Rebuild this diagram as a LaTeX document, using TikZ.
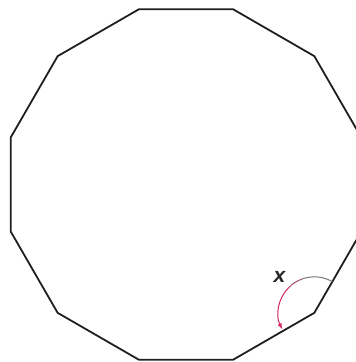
\documentclass[tikz,border=0pt]{standalone}
\usepackage{fontspec}
\setsansfont{Liberation Sans}
\usepackage{xcolor}
\usetikzlibrary{calc}

\definecolor{arcred}{RGB}{212,38,88}
\definecolor{arcgray}{RGB}{120,120,120}

\begin{document}
\begin{tikzpicture}[>=latex, x=1pt, y=1pt,
    side/.style={line width=1.8pt, color=black!88, line join=round},
    anglearc/.style={line width=1pt}]
    \useasboundingbox (0,0) rectangle (356,362);
    % Tâm và các đỉnh của thập nhị giác đều
    \coordinate (O) at (186,177.5);
    \foreach \k in {0,...,11}
        \coordinate (v\k) at ($(O)+({15+30*\k}:181.5)$);

    % Các cạnh
    \draw[side] (v0) -- (v1) -- (v2) -- (v3) -- (v4) -- (v5) -- (v6)
        -- (v7) -- (v8) -- (v9) -- (v10) -- (v11) -- cycle;

    % Cung góc trong tại đỉnh v10
    \draw[anglearc, arcgray] ($(v10)+(60:36)$) arc (60:110:36);
    \draw[anglearc, arcgray!50!arcred] ($(v10)+(110:36)$) arc (110:135:36);
    \draw[anglearc, arcred, ->] ($(v10)+(135:36)$) arc (135:207:36);
    \node[font=\sffamily\bfseries\itshape\fontsize{21}{24}\selectfont, text=black!85]
        (lblx) at (279.5,85) {x};
\end{tikzpicture}
\end{document}
